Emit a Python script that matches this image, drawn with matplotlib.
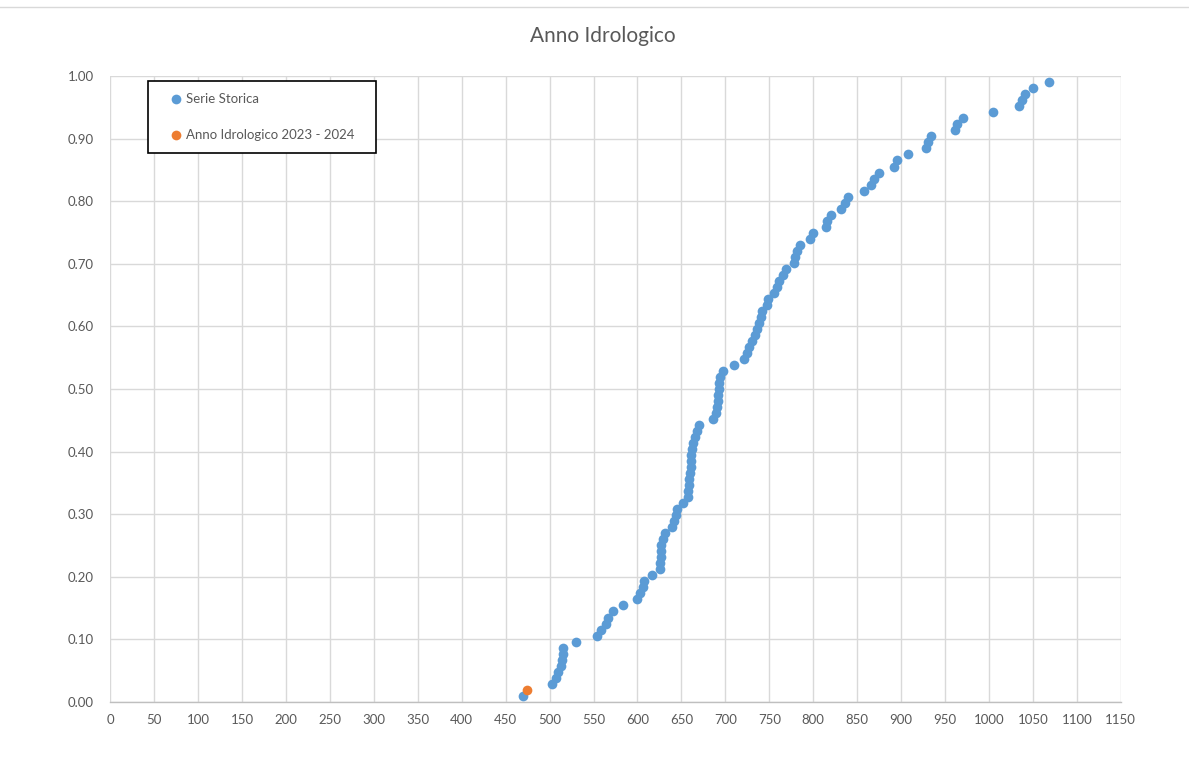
import matplotlib
matplotlib.use("Agg")
import matplotlib.pyplot as plt
from matplotlib.lines import Line2D
from matplotlib.patches import Rectangle

plt.rcParams['font.family'] = ['Lato', 'DejaVu Sans']

# Sorted annual values (mm) of the historical series, rank order (incl. 2023-2024 at rank 2)
values = [
    470, 474, 503, 507, 510, 512.6, 514, 515, 515.6, 529.7,
    554, 559, 564, 567, 572, 583, 600, 603, 606, 607.5,
    617, 625.6, 626, 626.4, 626.8, 627.2, 628.7, 631.3, 639, 641.6,
    644, 645.4, 652, 657, 658, 658.3, 659, 660, 660.8, 661.2,
    661.5, 662, 663.6, 665.5, 667.4, 670, 686.3, 689.4, 690.9, 691.7,
    692, 692.4, 692.8, 694, 697, 710, 721, 724.5, 727.3, 730,
    733.8, 736.4, 737.8, 740.3, 741.4, 747.1, 749, 755.4, 758.5, 761.5,
    765.3, 769, 778.2, 779.3, 781.2, 785, 796.4, 799.4, 814.6, 816,
    820.3, 831.3, 836.2, 840, 857.8, 865.4, 869.6, 875.3, 892.3, 895,
    908.3, 928, 931, 934, 961, 964, 971, 1005, 1034.6, 1037.3,
    1041, 1050.5, 1068,
]
current_rank = 2          # rank of Anno Idrologico 2023 - 2024
n = len(values)
probs = [i / (n + 1) for i in range(1, n + 1)]

hist_x = [v for i, v in enumerate(values, 1) if i != current_rank]
hist_y = [p for i, p in enumerate(probs, 1) if i != current_rank]
cur_x = [values[current_rank - 1]]
cur_y = [probs[current_rank - 1]]

title = "Anno Idrologico"
label_hist = "Serie Storica"
label_cur = "Anno Idrologico 2023 - 2024"
x_ticks = list(range(0, 1151, 50))
y_ticks = [i / 10 for i in range(0, 11)]

BLUE = "#5B9BD5"
ORANGE = "#ED7D31"
GRID = "#D9D9D9"
TXT = "#595959"

W, H = 1189, 779
fig = plt.figure(figsize=(W / 100, H / 100), dpi=100)
fig.patch.set_facecolor("white")
ax = fig.add_axes([110.3 / W, 1 - 701.7 / H, (1120.7 - 110.3) / W, (701.7 - 76.3) / H])

ax.plot(hist_x, hist_y, linestyle="none", marker="o", markersize=7,
        color=BLUE, markeredgewidth=0, zorder=3, label=label_hist)
ax.plot(cur_x, cur_y, linestyle="none", marker="o", markersize=7,
        color=ORANGE, markeredgewidth=0, zorder=4, label=label_cur)

ax.set_xlim(0, 1150)
ax.set_ylim(0, 1.0)
ax.set_xticks(x_ticks)
ax.set_yticks(y_ticks)
ax.set_xticklabels([str(t) for t in x_ticks])
ax.set_yticklabels([f"{t:.2f}" for t in y_ticks])
ax.grid(True, color=GRID, linewidth=1.0, zorder=0)
ax.set_axisbelow(True)
for s in ["top", "right", "left"]:
    ax.spines[s].set_visible(False)
ax.spines["bottom"].set_color("#BFBFBF")
ax.spines["bottom"].set_linewidth(1.0)
ax.tick_params(axis="both", length=0, labelsize=9.5, labelcolor=TXT)
ax.tick_params(axis="x", pad=9)
ax.tick_params(axis="y", pad=12)

fig.text(603 / W, 1 - 36 / H, title, ha="center", va="center",
         fontsize=15, color=TXT)

# legend (manually placed box as in the reference)
fig.add_artist(Rectangle((148 / W, 1 - 153 / H), (376 - 148) / W, (153 - 81) / H,
                         transform=fig.transFigure, facecolor="white",
                         edgecolor="black", linewidth=1.2, zorder=5))
for yy, col, lab in [(99, BLUE, label_hist), (135, ORANGE, label_cur)]:
    fig.add_artist(Line2D([176 / W], [1 - yy / H], linestyle="none", marker="o",
                          markersize=7, color=col, markeredgewidth=0,
                          transform=fig.transFigure, zorder=6))
    fig.text(185.5 / W, 1 - yy / H, lab, ha="left", va="center", fontsize=9.5,
             color=TXT, zorder=6)

# chart area top border
fig.add_artist(Line2D([0, 1], [1 - 7 / H, 1 - 7 / H], color=GRID, linewidth=1.0,
                      transform=fig.transFigure))

fig.savefig("out.png", dpi=100, facecolor="white")
